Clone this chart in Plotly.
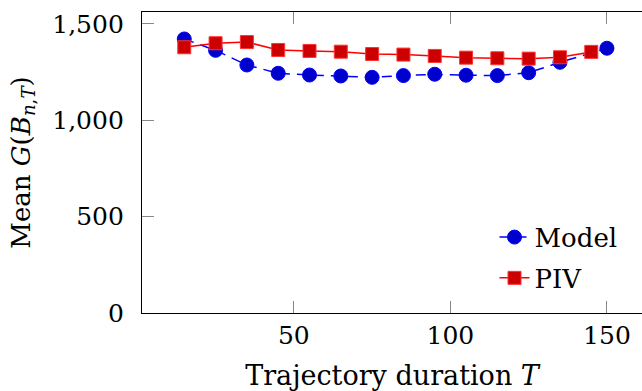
import plotly.graph_objects as go

model_T = [15, 25, 35, 45, 55, 65, 75, 85, 95, 105, 115, 125, 135, 150]
model_G = [1422, 1363, 1287, 1244, 1235, 1230, 1223, 1232, 1239, 1234, 1232, 1247, 1301, 1374]
piv_T = [15, 25, 35, 45, 55, 65, 75, 85, 95, 105, 115, 125, 135, 145]
piv_G = [1379, 1400, 1406, 1365, 1360, 1356, 1344, 1341, 1334, 1325, 1322, 1320, 1327, 1355]
x_ticks = [50, 100, 150]
y_ticks = [0, 500, 1000, 1500]

FONT = "DejaVu Serif"

fig = go.Figure()
fig.add_trace(go.Scatter(
    x=model_T, y=model_G, name="Model", mode="lines+markers", legendgroup="m",
    line=dict(color="#0000FF", width=1.5, dash="10px,7px"),
    marker=dict(symbol="circle", size=14, color="#0000CC",
                line=dict(color="#0000FF", width=1)),
))
fig.add_trace(go.Scatter(
    x=piv_T, y=piv_G, name="PIV", mode="lines+markers", legendgroup="p",
    line=dict(color="#FF0000", width=1.5),
    marker=dict(symbol="square", size=13, color="#CC0000",
                line=dict(color="#FF3333", width=1)),
))

fig.update_layout(
    width=642, height=391,
    margin=dict(l=142, r=0, t=12, b=78),
    plot_bgcolor="white", paper_bgcolor="white",
    font=dict(family=FONT, size=25, color="black"),
    showlegend=True,
    legend=dict(x=0.705, y=0.33, xanchor="left", yanchor="top",
                bgcolor="rgba(0,0,0,0)", borderwidth=0,
                font=dict(family=FONT, size=26, color="black"), tracegroupgap=4),
    xaxis=dict(
        range=[1.5, 161.2], tickvals=x_ticks, ticks="inside", ticklen=12,
        tickcolor="#888888", tickwidth=1, showline=True, linecolor="black",
        linewidth=1.3, mirror="ticks", showgrid=False, zeroline=False,
        automargin=False,
        title=dict(text="Trajectory duration <i>T</i>", standoff=22,
                   font=dict(family=FONT, size=27, color="black")),
        tickfont=dict(family=FONT, size=25, color="black"),
    ),
    yaxis=dict(
        range=[0, 1562], tickvals=y_ticks, tickformat=",", ticks="inside",
        ticklen=12, tickcolor="#888888", tickwidth=1, showline=True,
        linecolor="black", linewidth=1.3, mirror=False, showgrid=False,
        zeroline=False, automargin=False, ticklabelstandoff=12,
        title=dict(text="Mean <i>G</i>(<i>B</i><sub><i>n</i>,<i>T</i></sub>)",
                   standoff=14, font=dict(family=FONT, size=26, color="black")),
        tickfont=dict(family=FONT, size=25, color="black"),
    ),
)

fig.write_html("out.html")
